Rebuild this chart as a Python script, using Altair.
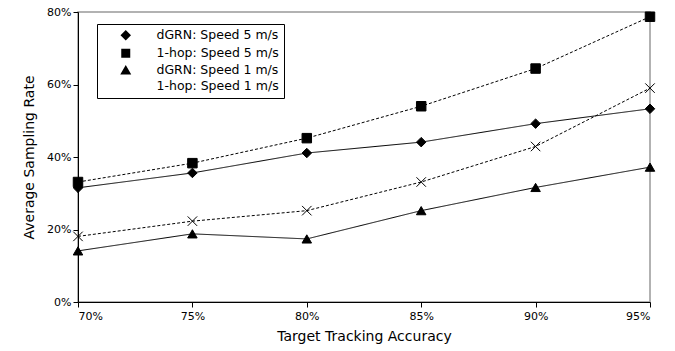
import altair as alt
import pandas as pd

accuracy = [70, 75, 80, 85, 90, 95]
series_names = ["dGRN: Speed 5 m/s", "1-hop: Speed 5 m/s", "dGRN: Speed 1 m/s", "1-hop: Speed 1 m/s"]
dgrn_5 = [31.5, 35.6, 41.1, 44.1, 49.2, 53.3]
hop_5 = [33.1, 38.3, 45.2, 54.0, 64.4, 78.7]
dgrn_1 = [14.1, 18.8, 17.4, 25.2, 31.6, 37.2]
hop_1 = [18.1, 22.3, 25.2, 33.1, 42.9, 59.0]

rows = []
for name, vals in zip(series_names, [dgrn_5, hop_5, dgrn_1, hop_1]):
    for a, v in zip(accuracy, vals):
        rows.append({"series": name, "acc": a, "rate": v})
df = pd.DataFrame(rows)

FONT = "DejaVu Sans"
X_PATH = "M-1,-1L1,1M1,-1L-1,1"

# legend symbol paths (unit = 5px, symbol center at 5px from entry left)
def dashed(x0, x1, on=0.6, off=0.4):
    parts = []
    x = x0
    while x < x1:
        e = min(x + on, x1)
        parts.append(f"M{x:.2f},0H{e:.2f}")
        x = e + off
    return "".join(parts)

solid = "M-1,0H8"
dash = dashed(-1, 8)
mx = 3.5
diamond = f"M{mx},-1.05L{mx+1.05},0L{mx},1.05L{mx-1.05},0Z"
square = f"M{mx-0.9},-0.9H{mx+0.9}V0.9H{mx-0.9}Z"
tri = f"M{mx},-1.05L{mx+1.1},0.85H{mx-1.1}Z"
xmark = f"M{mx-0.8},-0.8L{mx+0.8},0.8M{mx+0.8},-0.8L{mx-0.8},0.8"
legend_paths = [solid + diamond, dash + square, solid + tri, dash + xmark]

base = alt.Chart(df)

lines = base.mark_line(color="black", strokeWidth=1).encode(
    x=alt.X("acc:Q", scale=alt.Scale(domain=[70, 95], nice=False),
            axis=alt.Axis(values=accuracy, labelExpr="datum.value + '%'", title="Target Tracking Accuracy")),
    y=alt.Y("rate:Q", scale=alt.Scale(domain=[0, 80], nice=False),
            axis=alt.Axis(values=[0, 10, 20, 30, 40, 50, 60, 70, 80], labelExpr="datum.value + '%'",
                          title="Average Sampling Rate")),
    strokeDash=alt.StrokeDash("series:N", scale=alt.Scale(domain=series_names,
                              range=[[1, 0], [3, 2], [1, 0], [3, 2]]), legend=None),
    detail="series:N",
)

points = base.mark_point(filled=True, fill="black", stroke="black", strokeWidth=1, size=90, opacity=1).encode(
    x="acc:Q",
    y="rate:Q",
    shape=alt.Shape("series:N", scale=alt.Scale(domain=series_names,
                    range=["diamond", "square", "triangle-up", X_PATH]), legend=None),
)

legend_layer = base.transform_filter("false").mark_point(filled=True, fill="black", strokeWidth=1, opacity=1).encode(
    x="acc:Q",
    y="rate:Q",
    shape=alt.Shape("series:N", scale=alt.Scale(domain=series_names, range=legend_paths),
                    legend=alt.Legend(title=None, orient="none", legendX=19, legendY=12,
                                      symbolSize=100, labelOffset=42, symbolOpacity=1,
                                      symbolFillColor="black", symbolStrokeWidth=1,
                                      strokeColor="black", fillColor="white", padding=5,
                                      rowPadding=3, labelFont=FONT, labelFontSize=12.5,
                                      labelColor="black")),
    stroke=alt.Stroke("series:N", scale=alt.Scale(domain=series_names,
                      range=["black", "black", "#999999", "black"]), legend=None),
)

chart = alt.layer(lines, points, legend_layer).resolve_scale(
    shape="independent"
).properties(
    width=572, height=290,
    autosize=alt.AutoSizeParams(type="none"),
    padding={"left": 78, "top": 12, "right": 25, "bottom": 49},
).configure_view(
    stroke="#999999", strokeWidth=1.5
).configure_axis(
    domainColor="black", tickColor="black", labelColor="black", titleColor="black",
    labelFont=FONT, titleFont=FONT, labelFontSize=11, titleFontSize=14, titleFontWeight="normal",
    grid=False, tickSize=5, domainWidth=1,
).configure_axisX(labelPadding=3, titlePadding=8).configure_axisY(titlePadding=10)

chart.save("out.html", embed_options={"renderer": "svg", "actions": False})
